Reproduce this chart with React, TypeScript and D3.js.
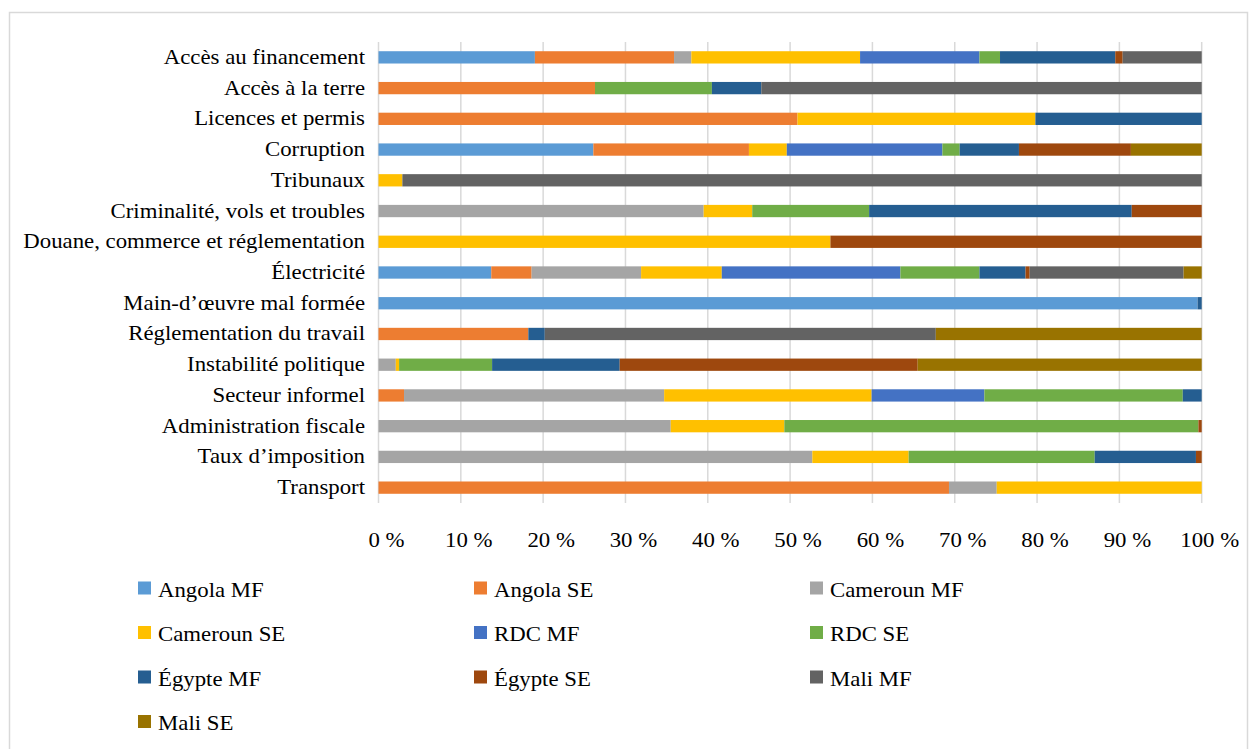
import React from 'react'
import * as d3 from 'd3'

// catégories (de haut en bas)
const categories = [
  'Accès au financement',
  'Accès à la terre',
  'Licences et permis',
  'Corruption',
  'Tribunaux',
  'Criminalité, vols et troubles',
  'Douane, commerce et réglementation',
  'Électricité',
  'Main-d\u2019œuvre mal formée',
  'Réglementation du travail',
  'Instabilité politique',
  'Secteur informel',
  'Administration fiscale',
  'Taux d\u2019imposition',
  'Transport',
]

const seriesNames = [
  'Angola MF', 'Angola SE', 'Cameroun MF', 'Cameroun SE', 'RDC MF',
  'RDC SE', 'Égypte MF', 'Égypte SE', 'Mali MF', 'Mali SE',
]

// valeurs (%) par catégorie, dans l'ordre de categories
const angolaMF = [19.0, 0, 0, 26.1, 0, 0, 0, 13.7, 99.5, 0, 0, 0, 0, 0, 0]
const angolaSE = [16.9, 26.3, 50.9, 18.9, 0, 0, 0, 4.9, 0, 18.2, 0, 3.1, 0, 0, 69.3]
const camerounMF = [2.1, 0, 0, 0, 0, 39.5, 0, 13.3, 0, 0, 2.1, 31.6, 35.5, 52.7, 5.8]
const camerounSE = [20.5, 0, 28.9, 4.6, 2.9, 5.9, 54.9, 9.8, 0, 0, 0.4, 25.2, 13.8, 11.7, 24.9]
const rdcMF = [14.5, 0, 0, 18.9, 0, 0, 0, 21.7, 0, 0, 0, 13.7, 0, 0, 0]
const rdcSE = [2.5, 14.2, 0, 2.1, 0, 14.2, 0, 9.6, 0, 0, 11.3, 24.1, 50.3, 22.6, 0]
const egypteMF = [14.0, 6.0, 20.2, 7.2, 0, 31.9, 0, 5.6, 0.5, 2.0, 15.5, 2.3, 0, 12.3, 0]
const egypteSE = [0.9, 0, 0, 13.6, 0, 8.5, 45.1, 0.5, 0, 0, 36.2, 0, 0.4, 0.7, 0]
const maliMF = [9.6, 53.5, 0, 0, 97.1, 0, 0, 18.7, 0, 47.5, 0, 0, 0, 0, 0]
const maliSE = [0, 0, 0, 8.6, 0, 0, 0, 2.2, 0, 32.3, 34.5, 0, 0, 0, 0]

const ticks = [0, 0.1, 0.2, 0.3, 0.4, 0.5, 0.6, 0.7, 0.8, 0.9, 1]

const colors = [
  '#5B9BD5', '#ED7D31', '#A5A5A5', '#FFC000', '#4472C4',
  '#70AD47', '#255E91', '#9E480E', '#636363', '#997300',
]

const font = '"Liberation Serif", "Times New Roman", serif'
const sx = 1.14 // le texte de l'original est un peu étiré en largeur

const T = ({ x, y, anchor = 'start', size = 20, children }: any) => (
  <text
    transform={`translate(${x},${y}) scale(${sx},1)`}
    textAnchor={anchor}
    dominantBaseline="central"
    fontFamily={font}
    fontSize={size}
    fill="#000"
  >
    {children}
  </text>
)

const App = () => {
  const W = 1250
  const H = 749

  const allSeries = [angolaMF, angolaSE, camerounMF, camerounSE, rdcMF, rdcSE, egypteMF, egypteSE, maliMF, maliSE]
  const table = categories.map((c, i) => {
    const row: any = { cat: c }
    seriesNames.forEach((s, k) => (row[s] = allSeries[k][i]))
    return row
  })

  const stacked = d3.stack<any>().keys(seriesNames).offset(d3.stackOffsetExpand)(table)

  const x = d3.scaleLinear().domain([0, 1]).range([378.5, 1201.7])
  const y = d3.scaleBand().domain(categories).range([42, 503]).paddingInner(0.6).paddingOuter(0.3)

  const legendCols = [138, 474, 810]
  const legendRows = [588, 632.5, 677, 721.5]

  return (
    <svg width={W} height={H} style={{ position: 'fixed', left: 0, top: 0, background: '#fff' }}>
      <rect x={9.5} y={12.5} width={1238} height={740} fill="#fff" stroke="#d9d9d9" strokeWidth={1.5} />

      {ticks.map((t) => (
        <line key={t} x1={x(t)} x2={x(t)} y1={42} y2={503} stroke="#d9d9d9" strokeWidth={1.5} />
      ))}

      {stacked.map((s, k) => (
        <g key={s.key} fill={colors[k]}>
          {s.map((d, i) =>
            d[1] - d[0] > 0 ? (
              <rect
                key={i}
                x={x(d[0])}
                y={y(categories[i])}
                width={x(d[1]) - x(d[0])}
                height={y.bandwidth()}
              />
            ) : null
          )}
        </g>
      ))}

      {categories.map((c) => (
        <T key={c} x={365} y={(y(c) || 0) + y.bandwidth() / 2} anchor="end">
          {c}
        </T>
      ))}

      {ticks.map((t) => (
        <T key={t} x={x(t) + 8} y={540} anchor="middle">
          {`${Math.round(t * 100)} %`}
        </T>
      ))}

      {seriesNames.map((s, k) => {
        const cx = legendCols[k % 3]
        const cy = legendRows[Math.floor(k / 3)]
        return (
          <g key={s}>
            <rect x={cx} y={cy - 6.5} width={13} height={13} fill={colors[k]} />
            <T x={cx + 20} y={cy + 2} size={20}>
              {s}
            </T>
          </g>
        )
      })}
    </svg>
  )
}

export default App
